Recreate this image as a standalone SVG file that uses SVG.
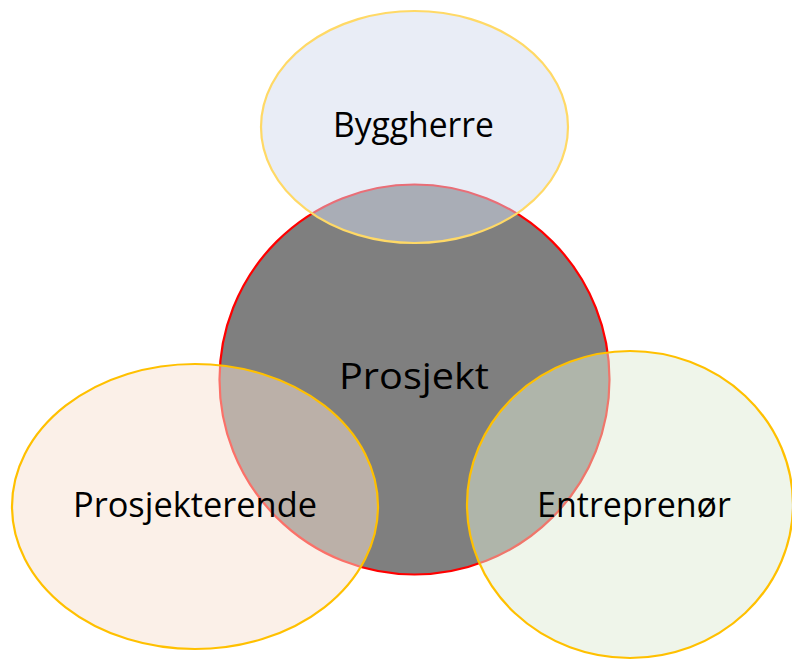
<svg xmlns="http://www.w3.org/2000/svg" width="792" height="660" viewBox="0 0 792 660">
  <style>
    .lbl { font-family: "Open Sans", "Noto Sans", "Liberation Sans", sans-serif; fill: #000000; }
    .ell { stroke-width: 2.2; }
  </style>
  <rect x="0" y="0" width="792" height="660" fill="#ffffff"/>
  <g id="prosjekt">
    <circle cx="414.5" cy="379.5" r="195" fill="#7f7f7f" stroke="#ff0000" stroke-width="2.2"/>
  </g>
  <g id="byggherre">
    <ellipse class="ell" cx="414.5" cy="127" rx="153.5" ry="116" fill="#d3dbed" fill-opacity="0.5" stroke="#ffd966"/>
  </g>
  <g id="prosjekterende">
    <ellipse class="ell" cx="195" cy="506.5" rx="183" ry="142.5" fill="#f7e1d1" fill-opacity="0.5" stroke="#ffc000"/>
  </g>
  <g id="entreprenor">
    <ellipse class="ell" cx="630" cy="504.5" rx="163" ry="153.5" fill="#dfebd5" fill-opacity="0.5" stroke="#ffc000"/>
  </g>
  <g id="labels">
    <text class="lbl" x="333" y="137" font-size="34" textLength="161" lengthAdjust="spacingAndGlyphs">Byggherre</text>
    <text class="lbl" x="339" y="389" font-size="36.5" textLength="150" lengthAdjust="spacingAndGlyphs">Prosjekt</text>
    <text class="lbl" x="73" y="517" font-size="34" textLength="244" lengthAdjust="spacingAndGlyphs">Prosjekterende</text>
    <text class="lbl" x="537" y="517" font-size="34" textLength="194" lengthAdjust="spacingAndGlyphs">Entreprenør</text>
  </g>
  <g id="connectors"></g>
</svg>
